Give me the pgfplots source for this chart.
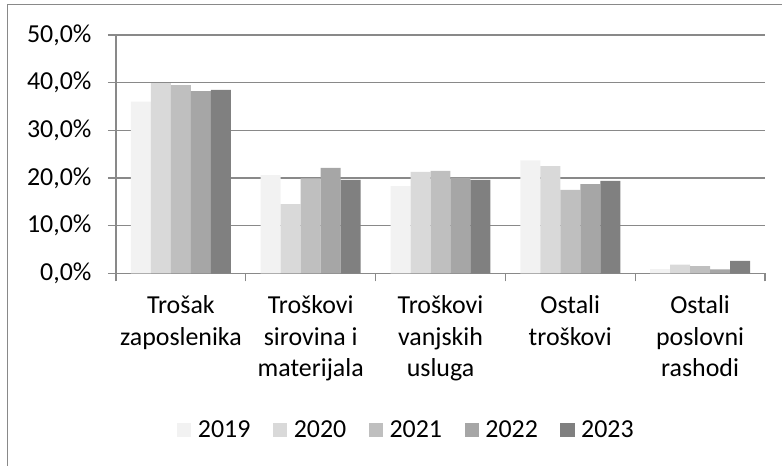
\documentclass[border=0pt]{standalone}
\usepackage{pgfplots}
\pgfplotsset{compat=1.18}
\usepackage{fontspec}
\setmainfont{Carlito}
\definecolor{c19}{HTML}{F2F2F2}
\definecolor{c20}{HTML}{D9D9D9}
\definecolor{c21}{HTML}{BFBFBF}
\definecolor{c22}{HTML}{A6A6A6}
\definecolor{c23}{HTML}{808080}
\definecolor{gridc}{HTML}{898989}
\begin{document}
\begin{tikzpicture}
\useasboundingbox (-116bp,-192.7bp) rectangle (666bp,273.3bp);
\draw[gridc, line width=1bp] (-108bp,-200bp) -- (-108bp,268.3bp) -- (680bp,268.3bp);
\begin{axis}[
  at={(0,0)}, anchor=south west,
  scale only axis, width=649bp, height=238.3bp,
  xmin=0.5, xmax=5.5, ymin=0, ymax=50,
  ybar=0pt, bar width=0.154,
  axis x line*=bottom, axis y line*=left,
  axis line style={gridc, line width=1.2bp, -},
  xtick={0.5,1.5,...,5.5}, x tick label as interval,
  xticklabels={{Trošak\\zaposlenika},{Troškovi\\sirovina i\\materijala},{Troškovi\\vanjskih\\usluga},{Ostali\\troškovi},{Ostali\\poslovni\\rashodi}},
  ytick={0,10,...,50},
  yticklabels={{0,0\%},{10,0\%},{20,0\%},{30,0\%},{40,0\%},{50,0\%}},
  tick align=outside, major tick length=8bp,
  tick style={gridc, line width=1.2bp},
  ymajorgrids, grid style={gridc, line width=1.2bp},
  x tick label style={font=\fontsize{26}{31.5}\selectfont, align=center, anchor=north, yshift=-11bp},
  y tick label style={font=\fontsize{26}{31.5}\selectfont, xshift=-13bp},
  legend columns=5,
  legend style={at={(0.446,-0.658)}, anchor=center, draw=none, fill=none,
    font=\fontsize{26}{31.5}\selectfont,
    /tikz/every odd column/.append style={column sep=6.5bp},
    /tikz/every even column/.append style={column sep=22.5bp},
    nodes={inner sep=0pt}},
  legend image code/.code={\fill[#1] (0bp,-7bp) rectangle (14.3bp,7bp);},
]
\addplot[fill=c19, draw=none] coordinates {(1,36.0) (2,20.6) (3,18.3) (4,23.7) (5,0.9)};
\addplot[fill=c20, draw=none] coordinates {(1,39.9) (2,14.5) (3,21.3) (4,22.5) (5,1.8)};
\addplot[fill=c21, draw=none] coordinates {(1,39.5) (2,19.9) (3,21.5) (4,17.5) (5,1.5)};
\addplot[fill=c22, draw=none] coordinates {(1,38.25) (2,22.1) (3,20.1) (4,18.7) (5,0.8)};
\addplot[fill=c23, draw=none] coordinates {(1,38.5) (2,19.6) (3,19.6) (4,19.4) (5,2.6)};
\legend{2019,2020,2021,2022,2023}
\end{axis}
\end{tikzpicture}
\end{document}
